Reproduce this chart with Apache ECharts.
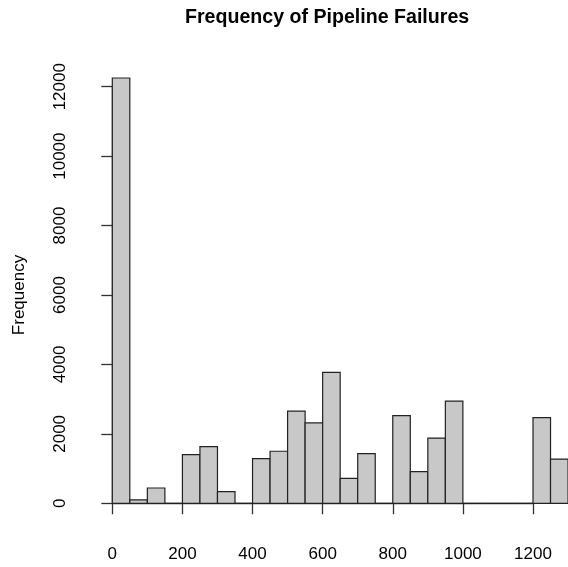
<!DOCTYPE html>
<html>
<head>
<meta charset="utf-8">
<script src="https://cdn.jsdelivr.net/npm/echarts@6/dist/echarts.min.js"></script>
<style>
  html, body { margin: 0; padding: 0; background: #fff; }
  #main { width: 568px; height: 567px; }
</style>
</head>
<body>
<div id="main"></div>
<script>
  // histogram breaks (bin edges) and counts per bin
  var breaks = [0, 50, 100, 150, 200, 250, 300, 350, 400, 450, 500, 550, 600, 650,
                700, 750, 800, 850, 900, 950, 1000, 1050, 1100, 1150, 1200, 1250, 1300];
  var counts = [12250, 100, 440, 0, 1400, 1630, 335, 0, 1285, 1500, 2655, 2315, 3770, 720,
                1430, 0, 2525, 910, 1880, 2945, 0, 0, 0, 0, 2465, 1275];
  var xTicks = [0, 200, 400, 600, 800, 1000, 1200];
  var yTicks = [0, 2000, 4000, 6000, 8000, 10000, 12000];

  var bins = [];
  for (var i = 0; i < counts.length; i++) {
    bins.push([breaks[i], breaks[i + 1], counts[i]]);
  }

  var font = 'Liberation Sans, Arial, Helvetica, sans-serif';
  var chart = echarts.init(document.getElementById('main'));

  var option = {
    animation: false,
    backgroundColor: '#ffffff',
    title: {
      text: 'Frequency of Pipeline Failures',
      left: 185,
      top: 8,
      padding: 0,
      textStyle: { fontFamily: font, fontSize: 19.6, fontWeight: 'bold', color: '#000' }
    },
    grid: { left: 112.3, right: 35, top: 86.7, bottom: 63.7, containLabel: false },
    xAxis: {
      type: 'value',
      min: xTicks[0],
      max: xTicks[xTicks.length - 1],
      interval: 200,
      offset: 17,
      splitLine: { show: false },
      axisLine: { show: true, lineStyle: { color: '#333', width: 1.3 } },
      axisTick: { show: true, length: 11, lineStyle: { color: '#333', width: 1.3 } },
      axisLabel: { margin: 26, fontFamily: font, fontSize: 17, color: '#000',
        formatter: function (v) { return String(v); } }
    },
    yAxis: {
      type: 'value',
      min: yTicks[0],
      max: yTicks[yTicks.length - 1],
      interval: 2000,
      offset: 18,
      name: 'Frequency',
      nameLocation: 'middle',
      nameGap: 66,
      nameTextStyle: { fontFamily: font, fontSize: 17, color: '#000' },
      splitLine: { show: false },
      axisLine: { show: true, lineStyle: { color: '#333', width: 1.3 } },
      axisTick: { show: true, length: 11, lineStyle: { color: '#333', width: 1.3 } },
      axisLabel: { rotate: 90, margin: 25, fontFamily: font, fontSize: 17, color: '#000',
        formatter: function (v) { return String(v); } }
    },
    series: [{
      type: 'custom',
      clip: false,
      data: bins,
      encode: { x: [0, 1], y: 2 },
      renderItem: function (params, api) {
        var p0 = api.coord([api.value(0), 0]);
        var p1 = api.coord([api.value(1), api.value(2)]);
        return {
          type: 'rect',
          shape: { x: p0[0], y: p1[1], width: p1[0] - p0[0], height: p0[1] - p1[1] },
          style: { fill: '#c8c8c8', stroke: '#222', lineWidth: 1.2 }
        };
      }
    }]
  };

  chart.setOption(option);
</script>
</body>
</html>
